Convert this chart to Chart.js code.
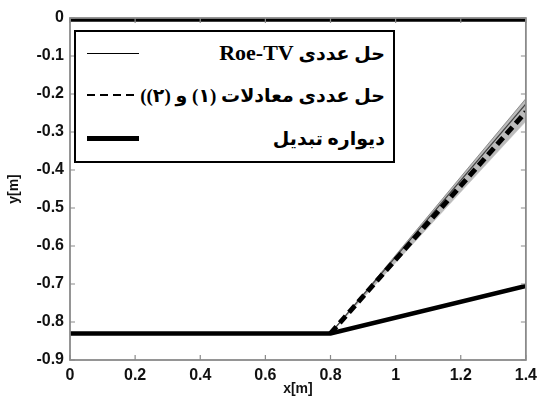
<!DOCTYPE html>
<html>
<head>
<meta charset="utf-8">
<script src="https://cdn.jsdelivr.net/npm/chart.js@4.4.1/dist/chart.umd.min.js"></script>
<style>
  html, body { margin: 0; padding: 0; background: #fff; }
  #wrap { position: relative; width: 543px; height: 398px; }
  #legend {
    position: absolute; left: 74px; top: 30px; width: 317px; height: 129px;
    border: 2px solid #000; background: #fff; box-sizing: content-box;
  }
  .row { position: absolute; left: 0; right: 0; height: 30px; }
  .sample { position: absolute; left: 11px; width: 52px; top: 50%; }
  .txt {
    position: absolute; right: 8px; top: 50%; transform: translateY(-50%);
    direction: rtl; white-space: nowrap; font-weight: bold; color: #000;
    font-family: "Liberation Serif", "DejaVu Sans", serif; font-size: 19px;
  }
  .txt .lat { font-size: 22px; }
</style>
</head>
<body>
<div id="wrap">
  <canvas id="c" width="543" height="398"></canvas>
  <div id="legend"></div>
</div>
<script>
// ---- data ----
const xLabels = ['0', '0.2', '0.4', '0.6', '0.8', '1', '1.2', '1.4'];
const yLabels = ['0', '-0.1', '-0.2', '-0.3', '-0.4', '-0.5', '-0.6', '-0.7', '-0.8', '-0.9'];

const roeX = [0.8, 1.4];
const roeY = [-0.83, -0.226];          // Roe-TV numerical solution (thin)
const bandUpperY = [-0.83, -0.212];    // grey spread of Roe-TV contours
const bandLowerY = [-0.83, -0.272];
const eqX = [0.8, 1.4];
const eqY = [-0.83, -0.247];           // numerical solution of eqs (1) & (2) (dashed)
const wallBottomX = [0, 0.8, 1.4];
const wallBottomY = [-0.83, -0.83, -0.705]; // transition wall
const wallTopX = [0, 1.4];
const wallTopY = [-0.004, -0.004];

const labels = ['حل عددی Roe-TV', 'حل عددی معادلات (۱) و (۲))', 'دیواره تبدیل'];

const pts = (xs, ys) => xs.map((x, i) => ({ x: x, y: ys[i] }));

// inward tick marks + frame drawn from the library's scales
const framePlugin = {
  id: 'frame',
  afterDatasetsDraw(chart) {
    const { ctx, chartArea: a, scales } = chart;
    ctx.save();
    ctx.strokeStyle = '#8a8a8a';
    ctx.lineWidth = 1.8;
    ctx.strokeRect(a.left, a.top, a.right - a.left, a.bottom - a.top);
    ctx.lineWidth = 1.2;
    const L = 5;
    scales.x.ticks.forEach((t, i) => {
      const px = scales.x.getPixelForTick(i);
      ctx.beginPath();
      ctx.moveTo(px, a.bottom); ctx.lineTo(px, a.bottom - L);
      ctx.moveTo(px, a.top); ctx.lineTo(px, a.top + L);
      ctx.stroke();
    });
    scales.y.ticks.forEach((t, i) => {
      const py = scales.y.getPixelForTick(i);
      ctx.beginPath();
      ctx.moveTo(a.left, py); ctx.lineTo(a.left + L, py);
      ctx.moveTo(a.right, py); ctx.lineTo(a.right - L, py);
      ctx.stroke();
    });
    ctx.restore();
  }
};

const tickFont = { family: '"Liberation Sans", Arial, sans-serif', size: 16, weight: 'bold' };

new Chart(document.getElementById('c'), {
  type: 'line',
  data: {
    datasets: [
      { label: 'bandU', order: 10, data: pts(roeX, bandUpperY), borderColor: 'rgba(110,110,110,0.7)', borderWidth: 1,
        pointRadius: 0, fill: '+1', backgroundColor: 'rgba(120,120,120,0.5)' },
      { label: 'bandL', order: 9, data: pts(roeX, bandLowerY), borderColor: 'rgba(190,190,190,0.5)', borderWidth: 1,
        pointRadius: 0, fill: false },
      { label: labels[0], order: 5, data: pts(roeX, roeY), borderColor: '#444', borderWidth: 1.2, pointRadius: 0, fill: false },
      { label: labels[1], order: 1, data: pts(eqX, eqY), borderColor: '#000', borderWidth: 5, borderDash: [9, 5],
        pointRadius: 0, fill: false },
      { label: labels[2], order: 0, data: pts(wallBottomX, wallBottomY), borderColor: '#000', borderWidth: 4.5,
        pointRadius: 0, fill: false },
      { label: 'top', order: 0, data: pts(wallTopX, wallTopY), borderColor: '#000', borderWidth: 4.5,
        pointRadius: 0, fill: false }
    ]
  },
  options: {
    responsive: false,
    animation: false,
    layout: { padding: { left: 6, right: 10, top: 18, bottom: 0 } },
    plugins: { legend: { display: false }, tooltip: { enabled: false } },
    elements: { line: { tension: 0, borderCapStyle: 'butt' } },
    scales: {
      x: {
        type: 'linear', min: 0, max: 1.4,
        grid: { display: false, drawTicks: false },
        border: { display: false },
        ticks: { stepSize: 0.2, padding: 6, color: '#111', font: tickFont, maxRotation: 0,
                 callback: (v, i) => xLabels[i] },
        title: { display: true, text: 'x[m]', color: '#111', padding: { top: 0, bottom: 0 },
                 font: { family: '"Liberation Sans", Arial, sans-serif', size: 14, weight: 'bold' } },
        afterFit: s => { s.height = 38; }
      },
      y: {
        type: 'linear', min: -0.9, max: 0,
        grid: { display: false, drawTicks: false },
        border: { display: false },
        ticks: { stepSize: 0.1, padding: 6, color: '#111', font: tickFont,
                 callback: (v, i, arr) => yLabels[arr.length - 1 - i] },
        title: { display: true, text: 'y[m]', color: '#111', padding: { top: 0, bottom: 2 },
                 font: { family: '"Liberation Sans", Arial, sans-serif', size: 14, weight: 'bold' } },
        afterFit: s => { s.width = 64; }
      }
    }
  },
  plugins: [framePlugin]
});

// HTML legend built from the dataset labels
const samples = [
  'border-top:1px solid #000; margin-top:-0.5px;',
  'height:2px; margin-top:-1px; background: repeating-linear-gradient(90deg,#000 0 8px,transparent 8px 13px);',
  'border-top:5px solid #000; margin-top:-2.5px;'
];
const rowCenters = [21, 63, 106];
const leg = document.getElementById('legend');
labels.forEach((lab, i) => {
  const row = document.createElement('div');
  row.className = 'row';
  row.style.top = (rowCenters[i] - 15) + 'px';
  const s = document.createElement('div');
  s.className = 'sample';
  s.style.cssText += samples[i];
  const t = document.createElement('div');
  t.className = 'txt';
  t.innerHTML = lab.replace('Roe-TV', '<span class="lat">Roe-TV</span>');
  row.appendChild(s);
  row.appendChild(t);
  leg.appendChild(row);
});
</script>
</body>
</html>
